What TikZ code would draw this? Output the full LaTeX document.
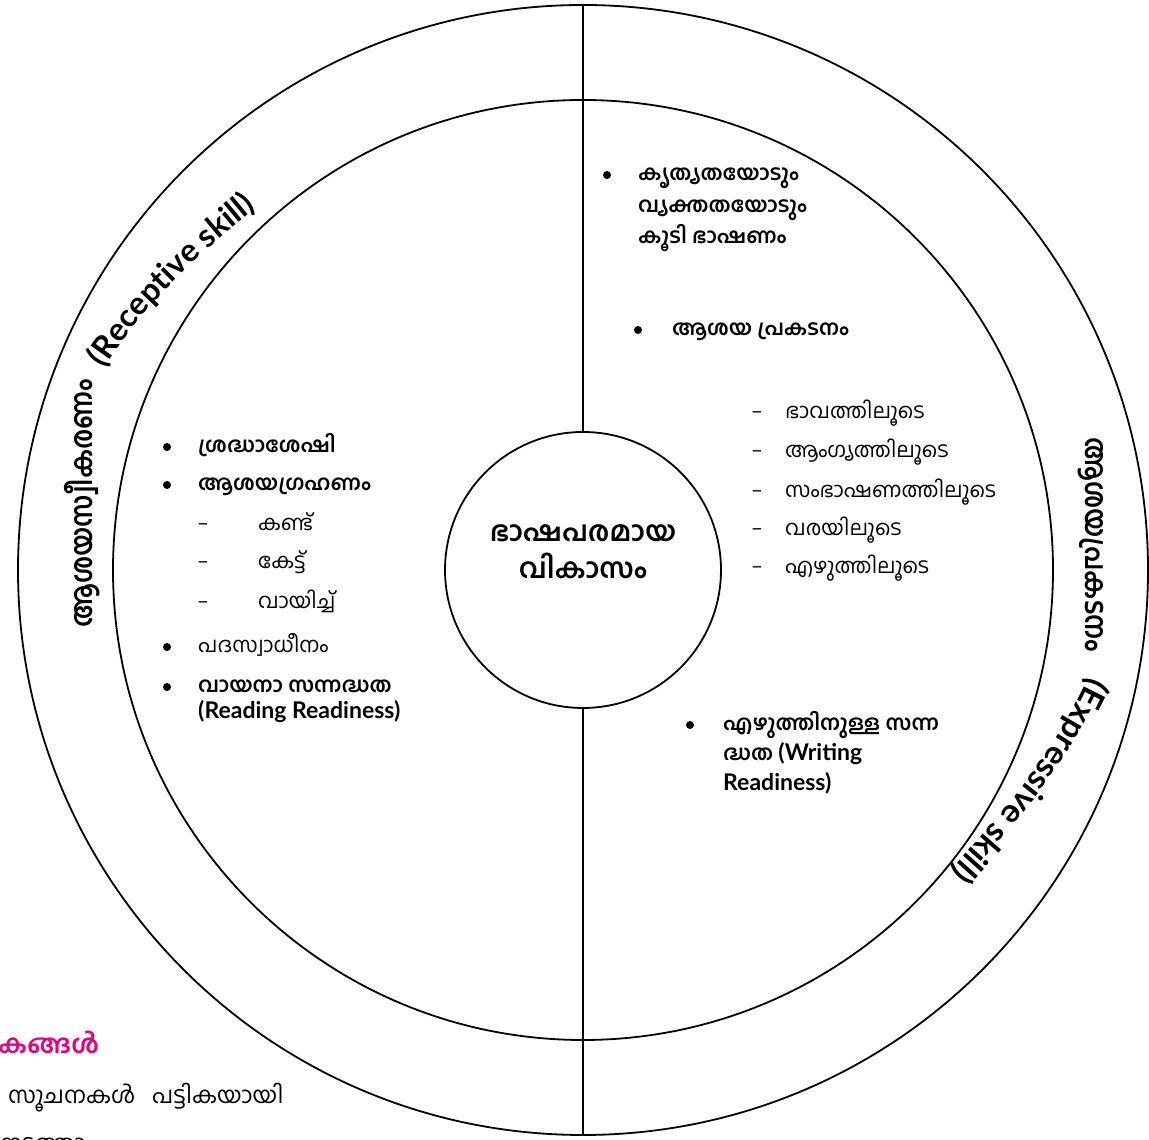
\documentclass[tikz,border=0pt]{standalone}
\usepackage{fontspec}
\usetikzlibrary{decorations.text}
\newfontfamily\mlfont[Script=Malayalam]{Hind Kochi}
\newfontfamily\ltfont{Lato}
\definecolor{mpink}{RGB}{230,0,126}
\begin{document}
\begin{tikzpicture}[x=1pt,y=1pt,
  ring/.style={line width=1.8pt},
  mlr/.style={font=\mlfont\fontsize{21}{25}\selectfont, anchor=west, inner sep=0pt, text height=15pt, text depth=4pt},
  mlb/.style={mlr, font=\mlfont\bfseries\fontsize{21}{25}\selectfont},
  ltb/.style={mlr, font=\ltfont\bfseries\fontsize{23}{27}\selectfont},
  bul/.style={circle, fill=black, minimum size=8pt, inner sep=0pt},
  dsh/.style={font=\ltfont\fontsize{21}{25}\selectfont, inner sep=0pt, text height=15pt, text depth=4pt},
  ctr/.style={font=\mlfont\bfseries\fontsize{28}{34}\selectfont, inner sep=0pt, text height=20pt, text depth=6pt},
  ttl/.style={font=\mlfont\bfseries\fontsize{30}{36}\selectfont, inner sep=0pt, text height=21pt, text depth=6pt}
]
\useasboundingbox (0,0) rectangle (1149,1140);
\coordinate (C) at (583,570);
\draw[ring] (C) circle[radius=565];
\draw[ring] (C) circle[radius=470];
\node[draw, ring, circle, minimum size=276pt, inner sep=0pt] (core) at (C) {};
\coordinate (top) at (583,1135);
\coordinate (bot) at (583,5);
\draw[ring] (top) -- (core.north);
\draw[ring] (core.south) -- (bot);

% centre
\node[ctr] (ct1) at (583,605) {ഭാഷപരമായ};
\node[ctr] (ct2) at (583,568) {വികാസം};

% ring titles
\node[ttl, rotate=90] (ltitle) at (85,637) {\scalebox{0.875}[1]{ആശയസ്വീകരണം}};
\node[ttl, rotate=-90] (rtitle) at (1093,595) {\scalebox{0.875}[1]{ആശയപ്രകടനം}};
\path[decorate, decoration={text along path, text={|\ltfont\bfseries\fontsize{32}{36}\selectfont|(Receptive skill)}}]
  plot[smooth] coordinates {(103.6,771.5) (142.2,824.5) (191.4,876.0) (230.5,910.4) (263.5,937.5) (300,965)};
\path[decorate, decoration={text along path, text={|\ltfont\bfseries\fontsize{33}{36}\selectfont|(Expressive skill)}}]
  plot[smooth] coordinates {(1089.0,463.9) (1063.3,414.0) (1028.9,362.1) (987.4,311.4) (942.9,261.5) (905,225)};

% left list
\node[bul] (lb1) at (167,693) {};
\node[mlb] (lt1) at (198,693) {ശ്രദ്ധാശേഷി};
\node[bul] (lb2) at (167,655) {};
\node[mlb] (lt2) at (198,655) {ആശയഗ്രഹണം};
\node[dsh] (ld1) at (203,615) {–};
\node[mlr] (ls1) at (258,615) {കണ്ട്};
\node[dsh] (ld2) at (203,577) {–};
\node[mlr] (ls2) at (258,577) {കേട്ട്};
\node[dsh] (ld3) at (203,537) {–};
\node[mlr] (ls3) at (258,537) {വായിച്ച്};
\node[bul] (lb3) at (167,493) {};
\node[mlr] (lt3) at (198,493) {പദസ്വാധീനം};
\node[bul] (lb4) at (167,453) {};
\node[mlb] (lt4) at (198,453) {വായനാ സന്നദ്ധത};
\node[ltb] (lt4b) at (198,427) {(Reading Readiness)};

% right top
\node[bul] (rb1) at (607,965) {};
\node[mlb] (rt1a) at (638,965) {കൃത്യതയോടും};
\node[mlb] (rt1b) at (638,933) {വ്യക്തതയോടും};
\node[mlb] (rt1c) at (638,902) {കൂടി ഭാഷണം};
\node[bul] (rb2) at (638,810) {};
\node[mlb] (rt2) at (672,810) {ആശയ പ്രകടനം};
\node[dsh] (rd1) at (757,727) {–};
\node[mlr] (rs1) at (785,727) {ഭാവത്തിലൂടെ};
\node[dsh] (rd2) at (757,688) {–};
\node[mlr] (rs2) at (785,688) {ആംഗ്യത്തിലൂടെ};
\node[dsh] (rd3) at (757,648) {–};
\node[mlr] (rs3) at (785,648) {സംഭാഷണത്തിലൂടെ};
\node[dsh] (rd4) at (757,610) {–};
\node[mlr] (rs4) at (785,610) {വരയിലൂടെ};
\node[dsh] (rd5) at (757,572) {–};
\node[mlr] (rs5) at (785,572) {എഴുത്തിലൂടെ};
\node[bul] (rb3) at (690,415) {};
\node[mlb] (rt3a) at (723,415) {എഴുത്തിനുള്ള സന്ന};
\node[mlb] (rt3b) at (723,385) {ദ്ധത {\ltfont\bfseries\fontsize{23}{27}\selectfont (Writing}};
\node[ltb] (rt3c) at (723,355) {Readiness)};

% cut-off page text at bottom left
\node[mlb, font=\mlfont\bfseries\fontsize{26}{30}\selectfont, text=mpink] (pk) at (-2,92) {കങ്ങൾ};
\node[mlr, font=\mlfont\fontsize{23}{27}\selectfont] (sn) at (8,42) {സൂചനകൾ\ \ \ പട്ടികയായി};
\node[mlr, font=\mlfont\fontsize{23}{27}\selectfont] (nt) at (0,-6) {നടത്താം};
\end{tikzpicture}
\end{document}
